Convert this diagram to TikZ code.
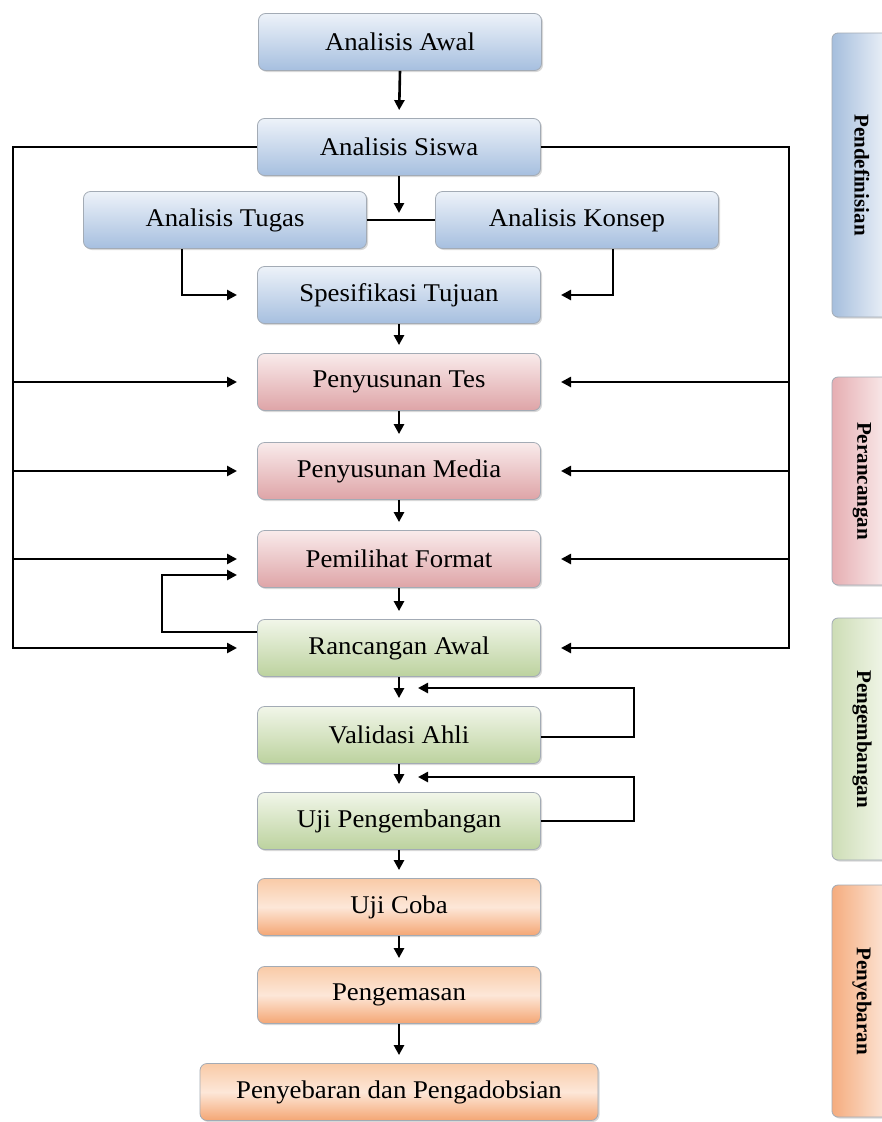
\documentclass[tikz,border=0pt]{standalone}
\usepackage{fontspec}
\setmainfont{Liberation Serif}
\newfontfamily\boxfont[FakeStretch=1.05]{Liberation Serif}
\newfontfamily\sidefont{Liberation Serif}
\usetikzlibrary{arrows.meta,shadows,calc}
\definecolor{blueT}{HTML}{EDF2F9}
\definecolor{blueB}{HTML}{A6BFDF}
\definecolor{pinkT}{HTML}{F9EBEB}
\definecolor{pinkB}{HTML}{DEA4A7}
\definecolor{greenT}{HTML}{F1F6E9}
\definecolor{greenB}{HTML}{BCD29E}
\definecolor{orangeT}{HTML}{F9CBA7}
\definecolor{orangeM}{HTML}{FDE7D8}
\definecolor{orangeB}{HTML}{F4A674}
\definecolor{boxborder}{HTML}{A3ABB5}
\definecolor{sblueL}{HTML}{A5BEDD}
\definecolor{sblueR}{HTML}{F3F6FB}
\definecolor{spinkL}{HTML}{E6AEB2}
\definecolor{spinkR}{HTML}{FBF0F0}
\definecolor{sgreenL}{HTML}{CDDDB5}
\definecolor{sgreenR}{HTML}{F6F9F0}
\definecolor{sorangeL}{HTML}{F5AC7E}
\definecolor{sorangeR}{HTML}{FDEBDF}
\begin{document}
\begin{tikzpicture}[x=1pt,y=-1pt,
  box/.style={draw=boxborder, line width=0.8pt, rounded corners=7pt,
    minimum width=283pt, minimum height=57pt, inner sep=0pt,
    font=\boxfont\fontsize{25.5}{29}\selectfont,
    drop shadow={shadow xshift=1.5pt,shadow yshift=-1.5pt,opacity=0.3}},
  bluebox/.style={box, top color=blueT, bottom color=blueB},
  pinkbox/.style={box, top color=pinkT, bottom color=pinkB},
  greenbox/.style={box, top color=greenT, bottom color=greenB},
  orangebox/.style={box, top color=orangeT, bottom color=orangeB, middle color=orangeM},
  side/.style={draw=boxborder, line width=0.8pt, rounded corners=6pt,
    minimum width=60pt, inner sep=0pt,
    drop shadow={shadow xshift=1.5pt,shadow yshift=-1.5pt,opacity=0.3}},
  sidetext/.style={rotate=-90, font=\sidefont\bfseries\fontsize{21}{25}\selectfont, inner sep=0pt},
  ln/.style={line width=2.6pt, line join=miter},
  arr/.style={ln, -{Triangle[length=10pt,width=10pt]}},
  down/.style={arr, shorten >=8pt},
]
\fill[white] (0,0) rectangle (882,1122);
\clip (0,0) rectangle (882,1122);

% main nodes
\node[bluebox] (a1) at (400,42) {Analisis Awal};
\node[bluebox] (a2) at (399,147) {Analisis Siswa};
\node[bluebox] (a3) at (225,220) {Analisis Tugas};
\node[bluebox] (a4) at (577,220) {Analisis Konsep};
\node[bluebox] (a5) at (399,295) {Spesifikasi Tujuan};
\node[pinkbox] (b1) at (399,382) {Penyusunan Tes};
\node[pinkbox] (b2) at (399,471) {Penyusunan Media};
\node[pinkbox] (b3) at (399,559) {Pemilihat Format};
\node[greenbox] (c1) at (399,648) {Rancangan Awal};
\node[greenbox] (c2) at (399,735) {Validasi Ahli};
\node[greenbox] (c3) at (399,821) {Uji Pengembangan};
\node[orangebox] (d1) at (399,907) {Uji Coba};
\node[orangebox] (d2) at (399,995) {Pengemasan};
\node[orangebox, minimum width=398pt] (d3) at (399,1092) {Penyebaran dan Pengadobsian};

% side nodes
\node[side, minimum height=284pt, left color=sblueL, right color=sblueR] (s1) at (862,175) {};
\node[sidetext] (s1t) at (s1) {Pendefinisian};
\node[side, minimum height=208pt, left color=spinkL, right color=spinkR] (s2) at (862,481) {};
\node[sidetext] (s2t) at (s2) {Perancangan};
\node[side, minimum height=242pt, left color=sgreenL, right color=sgreenR] (s3) at (862,739) {};
\node[sidetext] (s3t) at (s3) {Pengembangan};
\node[side, minimum height=232pt, left color=sorangeL, right color=sorangeR] (s4) at (862,1001) {};
\node[sidetext] (s4t) at (s4) {Penyebaran};

% helper coordinates
\coordinate (lx) at (13,0);
\coordinate (la) at (237,0);
\coordinate (ra) at (561,0);
\coordinate (rx) at (789,0);
\coordinate (ta) at (182,0);
\coordinate (ka) at (613,0);
\coordinate (lpx) at (162,0);
\coordinate (j1) at (399,213);
\coordinate (v1) at (634,688);
\coordinate (v1t) at (418,688);
\coordinate (v2) at (634,777);
\coordinate (v2t) at (418,777);

% vertical chain
\draw[down] (a1.south) -- (a2.north);
\draw[arr] (a2.south) -- (j1);
\draw[ln] (a3.east) -- (a4.west);
\draw[arr] (a3.south -| ta) |- (a5.west -| la);
\draw[arr] (a4.south -| ka) |- (a5.east -| ra);
\draw[down] (a5.south) -- (b1.north);
\draw[down] (b1.south) -- (b2.north);
\draw[down] (b2.south) -- (b3.north);
\draw[down] (b3.south) -- (c1.north);
\draw[down] (c1.south) -- (c2.north);
\draw[down] (c2.south) -- (c3.north);
\draw[down] (c3.south) -- (d1.north);
\draw[down] (d1.south) -- (d2.north);
\draw[down] (d2.south) -- (d3.north);

% left bus
\draw[arr] (a2.west) -| (c1.west -| lx) -- (c1.west -| la);
\draw[arr] (b1.west -| lx) -- (b1.west -| la);
\draw[arr] (b2.west -| lx) -- (b2.west -| la);
\draw[arr] (b3.west -| lx) -- (b3.west -| la);

% right bus
\draw[arr] (a2.east) -| (c1.east -| rx) -- (c1.east -| ra);
\draw[arr] (b1.east -| rx) -- (b1.east -| ra);
\draw[arr] (b2.east -| rx) -- (b2.east -| ra);
\draw[arr] (b3.east -| rx) -- (b3.east -| ra);

% loop Rancangan -> Pemilihat
\draw[arr] ($(c1.west)+(0,-16)$) -| ($(b3.west -| lpx)+(0,16)$) -- ($(b3.west -| la)+(0,16)$);

% validation loops
\draw[arr] ($(c2.east)+(0,2)$) -| (v1) -- (v1t);
\draw[arr] (c3.east) -| (v2) -- (v2t);
\end{tikzpicture}
\end{document}
